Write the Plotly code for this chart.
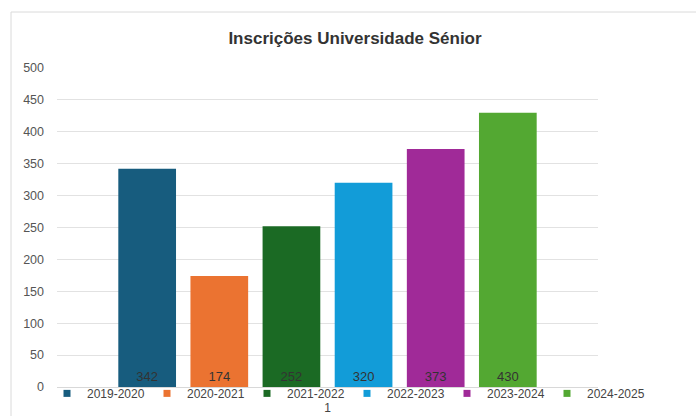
import plotly.graph_objects as go

categories = ["1"]
series_names = ["2019-2020", "2020-2021", "2021-2022", "2022-2023", "2023-2024", "2024-2025"]
series_values = [342, 174, 252, 320, 373, 430]
colors = ["#175C7E", "#EB7331", "#1B6A24", "#129CD8", "#A02A98", "#53A832"]
y_ticks = [0, 50, 100, 150, 200, 250, 300, 350, 400, 450, 500]

W, H = 696, 416
L, R, T, B = 57, 98, 68, 29
pw, ph = W - L - R, H - T - B

fig = go.Figure()
for name, val, col in zip(series_names, series_values, colors):
    fig.add_trace(go.Bar(
        x=categories, y=[val], name=name, marker=dict(color=col, line=dict(width=0)),
        text=[str(val)], textposition="inside", insidetextanchor="start",
        textfont=dict(color="#333333", size=13, family="Liberation Sans"),
        showlegend=False, hoverinfo="y+name",
    ))
    fig.add_trace(go.Scatter(
        x=[None], y=[None], mode="markers", name=name,
        marker=dict(symbol="square", size=7, color=col), showlegend=True,
    ))

def px_x(p):
    return (p - L) / pw

def px_y(p):
    return (H - B - p) / ph

fig.add_shape(type="rect", xref="paper", yref="paper",
              x0=px_x(11), x1=px_x(720), y0=px_y(440), y1=px_y(12),
              line=dict(color="#DADADA", width=1), fillcolor="rgba(0,0,0,0)", layer="below")

fig.update_layout(
    width=W, height=H,
    margin=dict(l=L, r=R, t=T, b=B, autoexpand=False),
    paper_bgcolor="white", plot_bgcolor="white",
    font=dict(family="Liberation Sans", color="#555555", size=12),
    title=dict(text="<b>Inscrições Universidade Sénior</b>", x=355 / W, xref="container",
               y=1 - 38 / H, yref="container", xanchor="center", yanchor="middle",
               font=dict(size=17, color="#333333", family="Liberation Sans")),
    barmode="group", bargap=0.2, bargroupgap=0.2,
    showlegend=True,
    legend=dict(orientation="h", x=px_x(47), xanchor="left", y=-0.02, yanchor="middle",
                entrywidth=55, entrywidthmode="pixels", tracegroupgap=0,
                font=dict(size=12, color="#444444"), bgcolor="rgba(0,0,0,0)"),
    xaxis=dict(type="category", showgrid=False, showline=False, ticks="",
               ticklabelstandoff=12, tickfont=dict(size=12, color="#444444")),
    yaxis=dict(range=[0, 500], tickvals=y_ticks, showgrid=True, gridcolor="#E2E2E2",
               gridwidth=1, zeroline=True, zerolinecolor="#D8D8D8", zerolinewidth=1,
               ticks="", ticklabelstandoff=12, tickfont=dict(size=12.5, color="#555555")),
)

fig.write_html("out.html", config={"displayModeBar": False},
               post_script="document.body.style.margin='0';document.body.style.overflow='hidden';")
